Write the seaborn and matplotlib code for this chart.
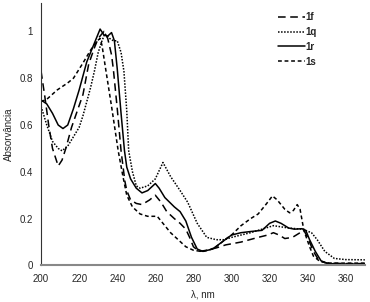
import numpy as np
import pandas as pd
import seaborn as sns
import matplotlib.pyplot as plt

# Spectra (wavelength in nm, absorbance)
wl_1f = [200, 202, 204, 206, 209, 211, 213, 216, 219, 222, 225, 228, 230, 233, 235, 237, 238, 240, 242, 244, 245, 247,
         250, 253, 257, 260, 263, 266, 270, 273, 276, 278, 280, 283, 287, 292, 297, 305, 314, 319, 322, 325, 328,
         332, 336, 338, 340, 343, 346, 350, 360, 370]
abs_1f = [0.83, 0.72, 0.60, 0.50, 0.425, 0.45, 0.50, 0.59, 0.66, 0.73, 0.86, 0.93, 0.97, 1.00, 0.97, 0.90, 0.835, 0.67, 0.49,
          0.36, 0.32, 0.28, 0.265, 0.26, 0.28, 0.30, 0.27, 0.23, 0.20, 0.18, 0.155, 0.12, 0.08, 0.06, 0.065, 0.075, 0.088,
          0.10, 0.12, 0.13, 0.14, 0.13, 0.115, 0.12, 0.14, 0.15, 0.12, 0.06, 0.02, 0.01, 0.008, 0.008]

wl_1q = [200, 203, 206, 209, 211, 214, 217, 220, 222, 224, 226, 228, 230, 232, 233.5, 236, 238, 240, 242, 243.5, 245,
         246, 248, 250, 252, 256, 260, 264, 268, 273, 277, 282, 287, 292, 296, 300, 310, 318, 322, 326, 330, 337,
         342, 345, 349, 354, 360, 370]
abs_1q = [0.68, 0.60, 0.53, 0.50, 0.49, 0.51, 0.55, 0.59, 0.64, 0.70, 0.76, 0.83, 0.91, 0.96, 0.99, 0.97, 0.96, 0.96, 0.91,
          0.83, 0.66, 0.49, 0.40, 0.34, 0.33, 0.34, 0.37, 0.44, 0.38, 0.32, 0.27, 0.18, 0.12, 0.11, 0.11, 0.12, 0.14,
          0.16, 0.17, 0.165, 0.16, 0.155, 0.14, 0.11, 0.06, 0.03, 0.025, 0.024]

wl_1r = [200, 203, 206, 209, 211.5, 214, 217, 220, 224, 228, 231, 233, 235, 237, 238.5, 240, 242, 243.8, 245, 247, 250,
         253, 256, 260, 262, 265, 270, 273, 276, 279, 282, 285, 290, 295, 300, 305, 310, 316, 320, 323, 326, 330,
         333, 337, 339, 341, 344, 347, 350, 355, 370]
abs_1r = [0.707, 0.69, 0.65, 0.60, 0.585, 0.60, 0.67, 0.75, 0.87, 0.95, 1.01, 0.985, 0.98, 0.995, 0.96, 0.84, 0.65, 0.49,
          0.42, 0.37, 0.33, 0.31, 0.32, 0.35, 0.33, 0.29, 0.25, 0.23, 0.19, 0.12, 0.07, 0.06, 0.07, 0.10, 0.13, 0.14,
          0.145, 0.15, 0.18, 0.19, 0.18, 0.16, 0.155, 0.157, 0.15, 0.11, 0.06, 0.02, 0.01, 0.006, 0.006]

wl_1s = [200, 203, 208.5, 214, 217, 222, 226, 229.5, 231, 232, 234, 237, 240.5, 243, 245, 248, 252, 256, 261, 264, 268,
         272, 276, 280, 284, 288, 292, 296.5, 300, 305, 310, 314, 318, 321.5, 324, 328, 330.5, 332.5, 334.5, 336,
         338, 341, 343, 346, 350, 370]
abs_1s = [0.70, 0.71, 0.75, 0.78, 0.80, 0.865, 0.92, 0.96, 0.97, 0.94, 0.835, 0.68, 0.49, 0.38, 0.30, 0.25, 0.22, 0.21,
          0.21, 0.18, 0.14, 0.11, 0.08, 0.065, 0.06, 0.065, 0.08, 0.11, 0.13, 0.17, 0.20, 0.22, 0.26, 0.297, 0.28,
          0.24, 0.225, 0.235, 0.26, 0.24, 0.15, 0.08, 0.04, 0.02, 0.01, 0.01]

labels = ['1f', '1q', '1r', '1s']
styles = {'1f': (0, (5, 3)), '1q': (0, (1, 1)), '1r': '-', '1s': (0, (2.5, 1.8))}

series = [(wl_1f, abs_1f), (wl_1q, abs_1q), (wl_1r, abs_1r), (wl_1s, abs_1s)]
df = pd.concat([pd.DataFrame({'wl': w, 'A': a, 'cmp': lab}) for (w, a), lab in zip(series, labels)])

sns.set_style('white')
plt.rcParams['font.family'] = ['Liberation Sans', 'DejaVu Sans']

fig = plt.figure(figsize=(3.7, 3.02), dpi=100)
ax = fig.add_axes([0.111, 0.121, 0.875, 0.868])

for lab in labels:
    sns.lineplot(data=df[df['cmp'] == lab], x='wl', y='A', color='black', linewidth=1.1,
                 linestyle=styles[lab], label=lab, ax=ax, sort=False)

ax.set_xlim(200, 370)
ax.set_ylim(0, 1.12)
ax.set_xticks(range(200, 361, 20))
ax.set_yticks([0, 0.2, 0.4, 0.6, 0.8, 1])
ax.set_yticklabels(['0', '0.2', '0.4', '0.6', '0.8', '1'])
ax.tick_params(labelsize=7, length=0, pad=6)
ax.set_xlabel('λ, nm', fontsize=7, labelpad=4)
ax.set_ylabel('Absorvância', fontsize=7, labelpad=4)

for s in ['top', 'right']:
    ax.spines[s].set_visible(False)
ax.spines['left'].set_color('#333333')
ax.spines['left'].set_linewidth(0.8)
ax.spines['bottom'].set_color('#888888')
ax.spines['bottom'].set_linewidth(1.5)

leg = ax.legend(loc='upper right', bbox_to_anchor=(0.88, 1.0), frameon=False, handlelength=2.8,
                handletextpad=0.1, labelspacing=0.5, prop={'size': 7, 'weight': 'bold'})

fig.savefig('out.png', dpi=100)
plt.close()
